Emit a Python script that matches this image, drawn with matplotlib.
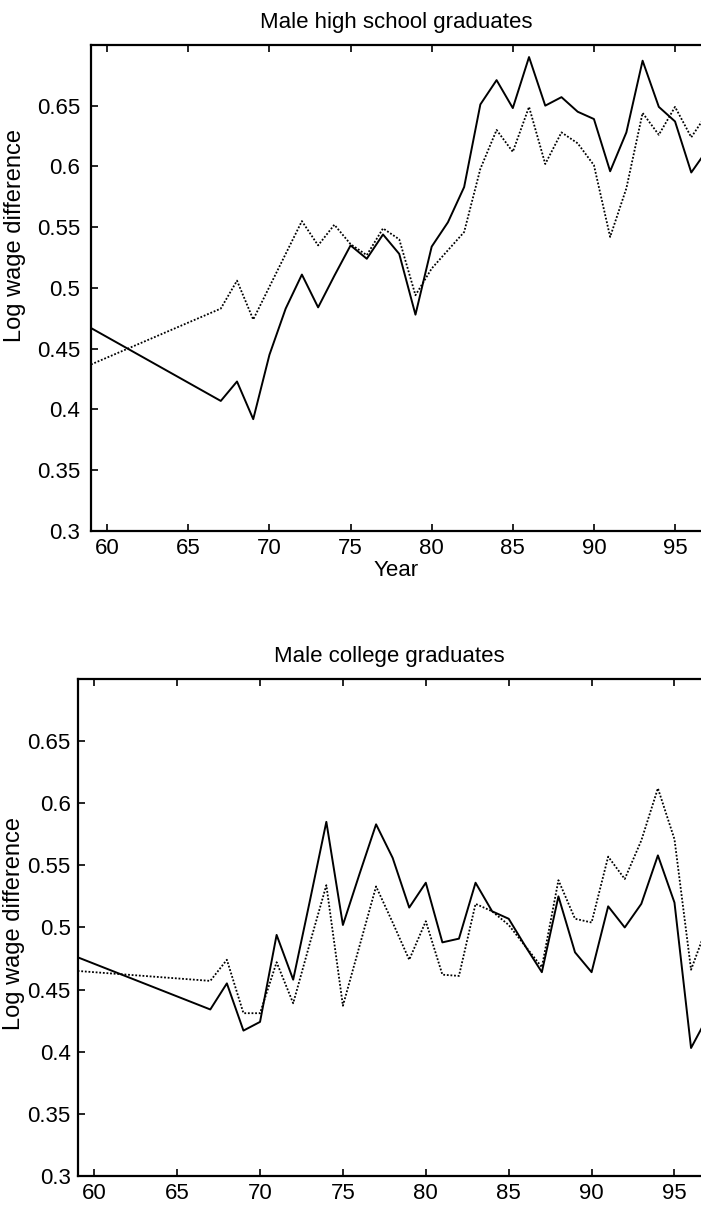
import numpy as np
import matplotlib
matplotlib.use('Agg')
import matplotlib.pyplot as plt

plt.rcParams['font.family'] = ['Liberation Sans', 'DejaVu Sans']

# years (19xx); the 1997 point sits just past the right edge
years = [59, 67, 68, 69, 70, 71, 72, 73, 74, 75, 76, 77, 78, 79, 80, 81, 82,
         83, 84, 85, 86, 87, 88, 89, 90, 91, 92, 93, 94, 95, 96, 97]

# Male high school graduates
hs_solid = [0.467, 0.407, 0.423, 0.392, 0.445, 0.483, 0.511, 0.484, 0.510,
            0.535, 0.524, 0.544, 0.528, 0.478, 0.534, 0.554, 0.583, 0.651,
            0.671, 0.648, 0.690, 0.650, 0.657, 0.645, 0.639, 0.596, 0.628,
            0.687, 0.649, 0.637, 0.595, 0.614]
hs_dotted = [0.437, 0.483, 0.506, 0.474, 0.501, 0.528, 0.555, 0.535, 0.552,
             0.536, 0.527, 0.549, 0.540, 0.494, 0.516, 0.531, 0.546, 0.598,
             0.630, 0.612, 0.649, 0.602, 0.628, 0.619, 0.601, 0.542, 0.582,
             0.644, 0.626, 0.649, 0.624, 0.644]

# Male college graduates
col_solid = [0.476, 0.434, 0.455, 0.417, 0.424, 0.494, 0.458, 0.521, 0.585,
             0.502, 0.543, 0.583, 0.556, 0.516, 0.536, 0.488, 0.491, 0.536,
             0.513, 0.507, 0.485, 0.464, 0.525, 0.480, 0.464, 0.517, 0.500,
             0.519, 0.558, 0.520, 0.403, 0.428]
col_dotted = [0.465, 0.457, 0.474, 0.431, 0.431, 0.472, 0.439, 0.487, 0.534,
              0.437, 0.485, 0.533, 0.504, 0.474, 0.505, 0.462, 0.461, 0.519,
              0.513, 0.502, 0.485, 0.468, 0.538, 0.507, 0.504, 0.557, 0.539,
              0.570, 0.612, 0.571, 0.466, 0.502]

yticks = [0.3, 0.35, 0.4, 0.45, 0.5, 0.55, 0.6, 0.65]
ytick_labels = ['0.3', '0.35', '0.4', '0.45', '0.5', '0.55', '0.6', '0.65']
xticks = [60, 65, 70, 75, 80, 85, 90, 95]

fig = plt.figure(figsize=(7.01, 12.07), dpi=100)
ax1 = fig.add_axes([0.1298, 0.5601, 0.8702, 0.4027])
ax2 = fig.add_axes([0.1108, 0.0257, 0.8892, 0.4118])

fs = 16

def style(ax, solid, dotted, title, ypad):
    ax.plot(years, solid, color='black', lw=1.4)
    ax.plot(years, dotted, color='black', lw=1.3, linestyle=(0, (1, 1)))
    ax.set_xlim(59, 96.6)
    ax.set_ylim(0.3, 0.7)
    ax.set_xticks(xticks)
    ax.set_yticks(yticks)
    ax.set_yticklabels(ytick_labels)
    ax.tick_params(direction='in', length=5, width=1.2, labelsize=fs,
                   top=True, right=False)
    ax.tick_params(axis='y', pad=ypad)
    ax.tick_params(axis='x', pad=5)
    for s in ['left', 'bottom', 'top']:
        ax.spines[s].set_linewidth(1.6)
    ax.spines['right'].set_visible(False)
    ax.set_title(title, fontsize=fs, pad=12)
    ax.set_ylabel('Log wage difference', fontsize=17)

style(ax1, hs_solid, hs_dotted, 'Male high school graduates', 8)
style(ax2, col_solid, col_dotted, 'Male college graduates', 5)
ax1.set_xlabel('Year', fontsize=fs, labelpad=1)
ax1.yaxis.set_label_coords(-0.107, 0.607)
ax2.yaxis.set_label_coords(-0.085, 0.507)

fig.savefig('out.png', dpi=100)
